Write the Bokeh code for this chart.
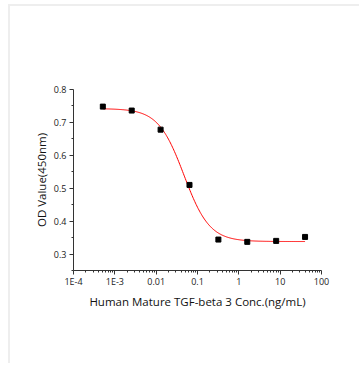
import numpy as np
from bokeh.plotting import figure
from bokeh.models import Range1d, FixedTicker
from bokeh.embed import file_html
from bokeh.resources import INLINE

# Data
conc = [0.000512, 0.00256, 0.0128, 0.064, 0.32, 1.6, 8.0, 40.0]
od = [0.748, 0.736, 0.678, 0.510, 0.344, 0.337, 0.340, 0.352]

# 4-parameter logistic fit parameters (estimated from the red curve)
fit_top = 0.742
fit_bottom = 0.338
fit_ec50 = 0.047
fit_hill = 1.4

x_ticks = [1e-4, 1e-3, 0.01, 0.1, 1, 10, 100]
x_tick_labels = ["1E-4", "1E-3", "0.01", "0.1", "1", "10", "100"]
y_ticks = [0.3, 0.4, 0.5, 0.6, 0.7, 0.8]

FONT = "Open Sans"

p = figure(width=349, height=357, frame_width=248, frame_height=181,
           x_axis_type="log", output_backend="svg", toolbar_location=None,
           x_range=Range1d(1e-4, 100), y_range=Range1d(0.25, 0.8),
           min_border_left=63, min_border_right=38, min_border_top=83, min_border_bottom=93)
p.outline_line_color = None
p.grid.visible = False
p.background_fill_color = "white"
p.border_fill_color = "white"
# light grey page frame (top and left) as in the reference picture
p.styles = {"margin-left": "8px", "margin-top": "4px",
            "border-top": "2px solid #eeeeee", "border-left": "2px solid #eeeeee"}

# fitted curve
xs = np.logspace(np.log10(conc[0]), np.log10(conc[-1]), 300)
ys = fit_bottom + (fit_top - fit_bottom) / (1 + (xs / fit_ec50) ** fit_hill)
p.line(xs, ys, line_color="#ff0000", line_width=1)

p.scatter(conc, od, marker="square", size=5, color="black")

minor_x = [k * 10.0 ** d for d in range(-4, 2) for k in range(2, 10)]
p.xaxis.ticker = FixedTicker(ticks=x_ticks, minor_ticks=minor_x)
p.xaxis.major_label_overrides = {t: l for t, l in zip(x_ticks, x_tick_labels)}
p.yaxis.ticker = FixedTicker(ticks=y_ticks, minor_ticks=[0.25, 0.35, 0.45, 0.55, 0.65, 0.75])
p.yaxis.major_label_overrides = {t: f"{t:.1f}" for t in y_ticks}

for ax in (p.xaxis[0], p.yaxis[0]):
    ax.axis_line_color = "#333333"
    ax.major_tick_line_color = "#333333"
    ax.minor_tick_line_color = "#333333"
    ax.major_tick_out = 4
    ax.major_tick_in = 0
    ax.minor_tick_out = 2
    ax.minor_tick_in = 0
    ax.major_label_text_font = FONT
    ax.major_label_text_font_size = "9px"
    ax.major_label_text_color = "#222222"
    ax.axis_label_text_font = FONT
    ax.axis_label_text_font_size = "11.5px"
    ax.axis_label_text_font_style = "normal"
    ax.axis_label_text_color = "#111111"

p.xaxis.axis_label = "Human Mature TGF-beta 3 Conc.(ng/mL)"
p.yaxis.axis_label = "OD Value(450nm)"
p.xaxis.major_label_standoff = 0
p.xaxis.axis_label_standoff = 3
p.yaxis.major_label_standoff = 3
p.yaxis.axis_label_standoff = 2

open("out.html", "w").write(file_html(p, INLINE))
